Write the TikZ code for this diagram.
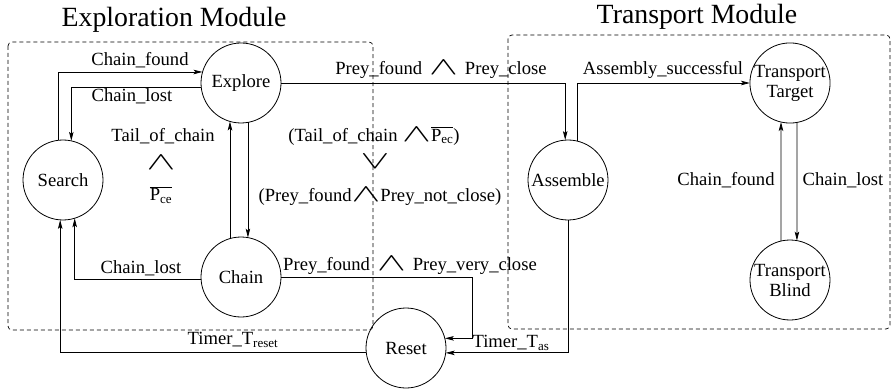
\documentclass[tikz,border=0pt]{standalone}
\usepackage{fontspec}
\setmainfont{Liberation Serif}
\usetikzlibrary{arrows.meta}

\newcommand{\andop}{\scalebox{2.5}[1.45]{$\wedge$}}
\newcommand{\orop}{\scalebox{2.5}[1.45]{$\vee$}}

\begin{document}
\begin{tikzpicture}[
  x=1pt,y=-1pt,
  font=\fontsize{18.6}{20}\selectfont,
  state/.style={circle,draw,line width=0.8pt,minimum size=80pt,inner sep=0pt,outer sep=0pt,align=center},
  module/.style={draw,dash pattern=on 4pt off 3pt,line width=0.7pt,rounded corners=4pt},
  trans/.style={line width=0.8pt,-{Stealth[length=9pt,width=4.5pt,inset=2pt]}},
  lbl/.style={inner sep=0pt},
  title/.style={font=\fontsize{27.8}{30}\selectfont}
]
\useasboundingbox (0,0) rectangle (891,390);

\draw[module] (8,42) rectangle (373,330);
\draw[module] (508,35) rectangle (890,329);
\node[title] (exptitle) at (174,20) {Exploration Module};
\node[title] (tratitle) at (697,17) {Transport Module};

\node[state] (search) at (63,180) {Search};
\node[state] (explore) at (241,83) {Explore};
\node[state] (chain) at (241,277) {Chain};
\node[state] (reset) at (406,348) {Reset};
\node[state] (assemble) at (568,180) {Assemble};
\node[state] (target) at (790,83) {Transport\\Target};
\node[state] (blind) at (790,280) {Transport\\Blind};

\draw[trans] (search.97) |- (explore.164);
\draw[trans] (explore.186) -| (search.78);
\draw[trans] (chain.106) -- (explore.254);
\draw[trans] (explore.280) -- (chain.80);
\draw[trans] (chain.183) -| (search.287);
\draw[trans] (reset.186) -| (search.266);
\draw[trans] (explore.east) -| (assemble.94);
\draw[trans] (assemble.76) |- (target.west);
\draw[trans] (target.280) -- (blind.80);
\draw[trans] (blind.103) -- (target.257);
\draw[trans] (chain.east) -- ++(191,0) |- (reset.14);
\draw[trans] (assemble.south) |- (reset.-7);

\node[lbl] (sefound) at (140,60) {Chain\_found};
\node[lbl] (eslost) at (132,96) {Chain\_lost};
\node[lbl] (tailce) at (163,136) {Tail\_of\_chain};
\node[lbl] (andce) at (161,163) {\andop};
\node[lbl] (pce) at (161,195) {$\overline{\hbox{P\textsubscript{ce}}}$};
\node[lbl] (cslost) at (141,268) {Chain\_lost};
\node[lbl] (treset) at (233,340) {Timer\_T\textsubscript{reset}};
\node[lbl] (preyclose) at (441,70) {Prey\_found\hspace{7pt}\andop\hspace{7pt}Prey\_close};
\node[lbl] (assembly) at (663,70) {Assembly\_successful};
\node[lbl] (tailec) at (374,136) {(Tail\_of\_chain \andop$\overline{\hbox{P\textsubscript{ec}}}$)};
\node[lbl] (orec) at (375,162) {\orop};
\node[lbl] (notclose) at (380,197) {(Prey\_found\andop Prey\_not\_close)};
\node[lbl] (veryclose) at (410,266) {Prey\_found\hspace{7pt}\andop\hspace{7pt}Prey\_very\_close};
\node[lbl] (tas) at (511,343) {Timer\_T\textsubscript{as}};
\node[lbl] (tbfound) at (726,180) {Chain\_found};
\node[lbl] (tblost) at (843,180) {Chain\_lost};

\end{tikzpicture}
\end{document}
